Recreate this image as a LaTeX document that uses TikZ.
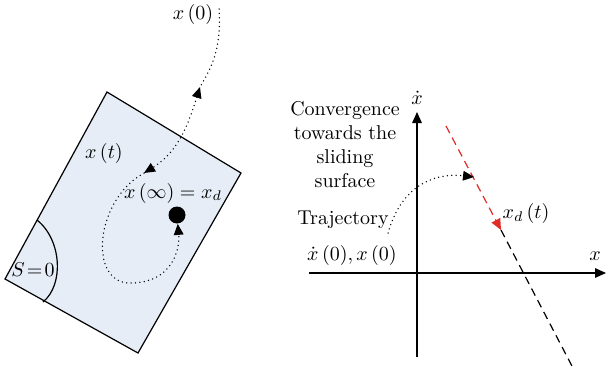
\documentclass[tikz,border=0pt]{standalone}
\usepackage{amsmath,amssymb,tikz}
\usetikzlibrary{arrows.meta,positioning,calc}
\definecolor{regionblue}{RGB}{230,237,247}
\definecolor{surfred}{RGB}{222,45,38}
\tikzset{tip/.style={-{Triangle[length=5.5pt,width=4.8pt]}},traj/.style={line width=0.75pt,line cap=round,dash pattern=on 0pt off 2.2pt},surf/.style={line width=0.6pt,dash pattern=on 4pt off 2.6pt},axis/.style={tip,line width=0.6pt},label/.style={inner sep=0.5pt,font=\normalsize},goaldot/.style={circle,fill=black,inner sep=0pt,minimum size=8.5pt}}

\begin{document}
\begin{tikzpicture}[x=0.5pt,y=-0.5pt]
\useasboundingbox (0,0) rectangle (606,375);
% region with the sliding surface
\draw[line width=0.6pt,fill=regionblue] (107,92)--(241,173)--(138,353)--(5,279)--cycle;
\draw[line width=0.6pt] (37,220) .. controls (62,240) and (64,285) .. (43,302);
\node[label] (szero) at (33,270) {$S\!=\!0$};
\node[label] (xzero) at (193,14) {$x\,(0)$};
\node[label] (xt) at (104,153) {$x\,(t)$};
\node[label] (xinf) at (173,193) {$x\,(\infty)=x_d$};
\node[goaldot] (goal) at (177,215) {};
\coordinate (start) at (219,9);
\coordinate (up) at (200,87);
\coordinate (down) at (144,173);
\draw[traj] (start) .. controls (222,50) and (210,70) .. (up);
\draw[traj,{Triangle[length=5.5pt,width=4.8pt]}-{Triangle[length=5.5pt,width=4.8pt]}] (up) .. controls (188,125) and (178,152) .. (down);
\draw[traj,tip] (down) .. controls (95,200) and (88,283) .. (130,283) .. controls (172,283) and (180,250) .. (goal);
% phase plane
\coordinate (origin) at (417,273);
\draw[axis] (309,273)--(606,273);
\draw[axis] (417,357)--(417,112);
\node[label] (xdot) at (417,98) {$\dot{x}$};
\node[label] (xaxis) at (595,256) {$x$};
\node[label,align=center] (conv) at (345,145) {Convergence\\towards the\\sliding\\surface};
\node[label] (traject) at (343,220) {Trajectory};
\node[label] (init) at (352,255) {$\dot{x}\,(0), x\,(0)$};
\node[label] (xd) at (526,213) {$x_d\,(t)$};
\coordinate (ltop) at (446,126);
\coordinate (lmid) at (501,230);
\coordinate (lend) at (573,368);
\coordinate (tstart) at (388,233);
\coordinate (hit) at (474,177);
\draw[surf,surfred,tip] (ltop)--(lmid);
\draw[surf] (lmid)--(lend);
\draw[traj,tip] (tstart) .. controls (400,190) and (430,172) .. (hit);
\end{tikzpicture}
\end{document}
